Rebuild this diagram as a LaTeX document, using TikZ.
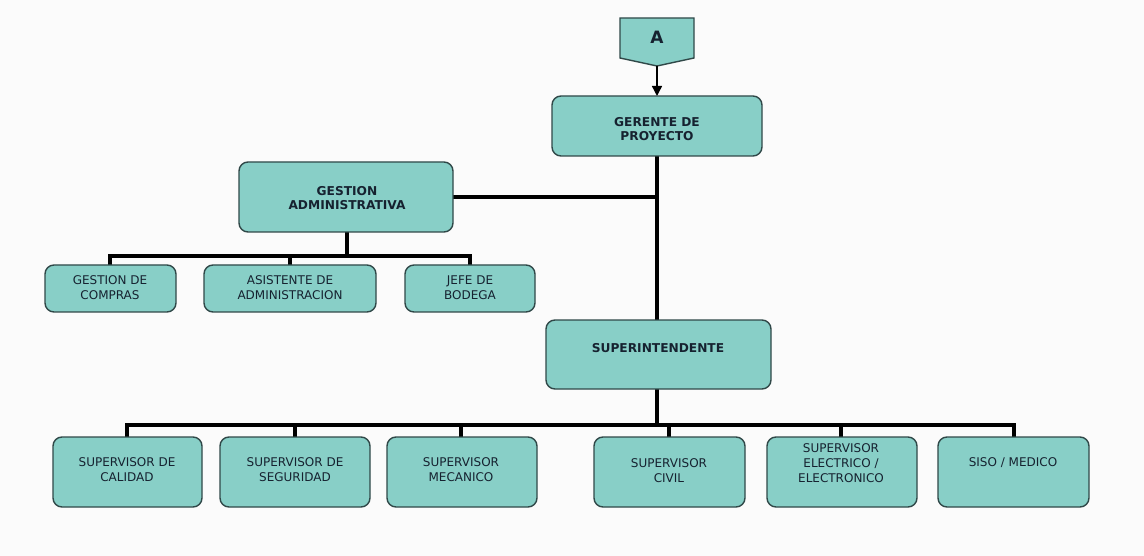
\documentclass[tikz,border=0pt]{standalone}
\usepackage{fontspec}
\setmainfont{DejaVu Sans}
\usetikzlibrary{arrows.meta,calc}
\definecolor{boxfill}{RGB}{136,207,199}
\definecolor{boxedge}{RGB}{48,72,72}
\definecolor{ink}{RGB}{22,34,48}
\definecolor{paper}{RGB}{251,251,251}
\tikzset{
  box/.style={draw=boxedge, line width=1.4pt, fill=boxfill, rounded corners=9pt, inner sep=0pt},
  txt/.style={text=ink, align=center, font=\fontsize{12}{15}\selectfont, inner sep=0pt},
  btxt/.style={txt, font=\bfseries\fontsize{12.2}{14.5}\selectfont},
  link/.style={draw=black, line width=3.4pt},
}
\newcommand{\orgbox}[5]{% name, x1, y1, x2, y2
  \path[box] (#2,#3) rectangle (#4,#5);
  \coordinate (#1) at ({(#2+#4)/2},{(#3+#5)/2});
  \coordinate (#1-n) at ({(#2+#4)/2},#3);
  \coordinate (#1-s) at ({(#2+#4)/2},#5);
  \coordinate (#1-e) at (#4,{(#3+#5)/2});
}
\begin{document}
\begin{tikzpicture}[x=1pt,y=-1pt]
\path[fill=paper] (0,0) rectangle (1144,556);
\useasboundingbox (0,0) rectangle (1144,556);

% connectors first, boxes drawn on top
\coordinate (ga-bar) at (347,256);
\coordinate (su-bar) at (657,425);
\coordinate (gp-tee) at (657,197);

\draw[link] (657,156) -- (657,320);
\draw[link] (453,197) -- (gp-tee);
\draw[link] (347,232) -- (ga-bar);
\draw[link] (110,266) -- (110,256) -- (470,256) -- (470,266);
\draw[link] (290,256) -- (290,266);
\draw[link] (657,389) -- (su-bar);
\draw[link] (127,438) -- (127,425) -- (1014,425) -- (1014,438);
\foreach \x in {295,461,669,841} \draw[link] (\x,425) -- (\x,438);

% off-page connector A
\path[draw=boxedge, line width=1.4pt, fill=boxfill] (620,18) -- (694,18) -- (694,58) -- (657,66) -- (620,58) -- cycle;
\node[btxt, font=\bfseries\fontsize{17}{19}\selectfont] (A) at (657,37) {A};
\coordinate (A-tip) at (657,66);

% top boxes
\orgbox{gp}{552}{96}{762}{156}
\node[btxt] (gpT) at (657,129) {GERENTE DE\\PROYECTO};
\draw[line width=1.4pt, -{Triangle[length=10pt,width=10pt]}] (A-tip) -- (A-tip |- gp-n);

\orgbox{ga}{239}{162}{453}{232}
\node[btxt] (gaT) at (347,198) {GESTION\\ADMINISTRATIVA};

\orgbox{gc}{45}{265}{176}{312}
\node[txt] (gcT) at (110,288) {GESTION DE\\COMPRAS};
\orgbox{aa}{204}{265}{376}{312}
\node[txt] (aaT) at (290,288) {ASISTENTE DE\\ADMINISTRACION};
\orgbox{jb}{405}{265}{535}{312}
\node[txt] (jbT) at (470,288) {JEFE DE\\BODEGA};

\orgbox{su}{546}{320}{771}{389}
\node[btxt] (suT) at (658,348) {SUPERINTENDENTE};

% supervisors
\orgbox{s1}{53}{437}{202}{507}
\node[txt] (s1T) at (127,470) {SUPERVISOR DE\\CALIDAD};
\orgbox{s2}{220}{437}{370}{507}
\node[txt] (s2T) at (295,470) {SUPERVISOR DE\\SEGURIDAD};
\orgbox{s3}{387}{437}{537}{507}
\node[txt] (s3T) at (461,470) {SUPERVISOR\\MECANICO};
\orgbox{s4}{594}{437}{745}{507}
\node[txt] (s4T) at (669,471) {SUPERVISOR\\CIVIL};
\orgbox{s5}{767}{437}{917}{507}
\node[txt] (s5T) at (841,463) {SUPERVISOR\\ELECTRICO /\\ELECTRONICO};
\orgbox{s6}{938}{437}{1089}{507}
\node[txt] (s6T) at (1013,463) {SISO / MEDICO};
\end{tikzpicture}
\end{document}
